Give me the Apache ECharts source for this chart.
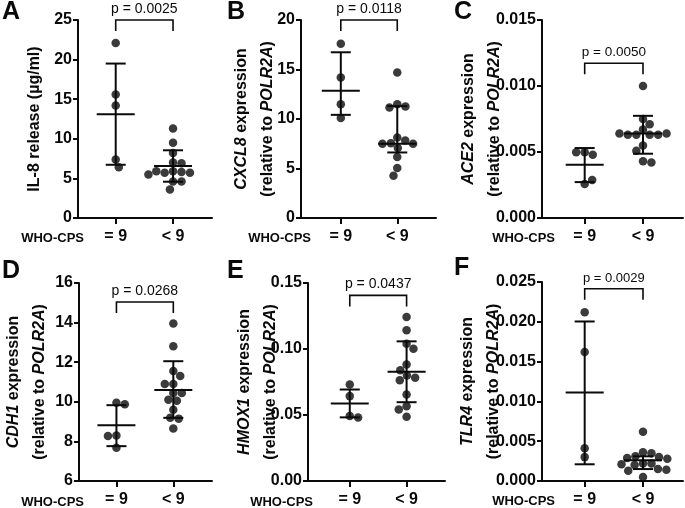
<!DOCTYPE html>
<html><head><meta charset="utf-8">
<script src="https://cdn.jsdelivr.net/npm/echarts@6/dist/echarts.min.js"></script>
<style>html,body{margin:0;padding:0;background:#fff}#c{width:685px;height:508px}</style>
</head><body><div id="c"></div>
<script>
// ---------- DATA ----------
const categories = ['= 9', '< 9'];
const groupLabel = 'WHO-CPS';
const panelLetters = ['A', 'B', 'C', 'D', 'E', 'F'];

// A: IL-8 release
const aEq9 = [22.1, 15.6, 14.2, 7.4, 6.4];
const aLt9 = [11.3, 9.5, 8.2, 7.0, 6.9, 5.9, 5.7, 5.8, 5.9, 5.7, 5.5, 4.6, 4.6, 3.6];
const aCenter = [13.1, 6.55];
const aLow = [6.72, 4.58];
const aHigh = [19.5, 8.55];
const aBracket = 25;
const aP = 'p = 0.0025';

// B: CXCL8
const bEq9 = [17.6, 14.2, 11.5, 10.1];
const bLt9 = [14.7, 11.5, 11.26, 11.16, 8.13, 7.83, 7.56, 7.5, 7.5, 7.06, 6.15, 5.04, 4.27];
const bCenter = [12.85, 7.5];
const bLow = [10.42, 6.62];
const bHigh = [16.74, 11.3];
const bBracket = 20;
const bP = 'p = 0.0118';

// C: ACE2
const cEq9 = [0.00499, 0.00479, 0.00499, 0.00257, 0.00287];
const cLt9 = [0.0100, 0.0075, 0.0071, 0.0067, 0.0063, 0.0063, 0.0063, 0.0063, 0.0064, 0.0064, 0.0055, 0.0051, 0.0043, 0.0042];
const cCenter = [0.00403, 0.0064];
const cLow = [0.00272, 0.00487];
const cHigh = [0.0053, 0.00774];
const cBracket = 0.01172;
const cP = 'p = 0.0050';

// D: CDH1
const dEq9 = [9.95, 9.88, 8.3, 8.27, 7.68];
const dLt9 = [13.95, 12.8, 11.55, 11.3, 10.9, 10.9, 10.45, 10.45, 10.1, 10.05, 9.6, 9.2, 9.15, 8.65];
const dCenter = [8.82, 10.59];
const dLow = [7.76, 9.19];
const dHigh = [9.83, 12.05];
const dBracket = 15.04;
const dP = 'p = 0.0268';

// E: HMOX1
const eEq9 = [0.0731, 0.0643, 0.0492, 0.0481];
const eLt9 = [0.1243, 0.1142, 0.1039, 0.1001, 0.0882, 0.0839, 0.0799, 0.0782, 0.0764, 0.0655, 0.0567, 0.0542, 0.0487];
const eCenter = [0.0587, 0.0827];
const eLow = [0.0482, 0.0597];
const eHigh = [0.0693, 0.1058];
const eBracket = 0.1406;
const eP = 'p = 0.0437';

// F: TLR4
const fEq9 = [0.0212, 0.0162, 0.0041, 0.0030];
const fLt9 = [0.0062, 0.0036, 0.0035, 0.0031, 0.0030, 0.0029, 0.0028, 0.0022, 0.0022, 0.0021, 0.0020, 0.0015, 0.0014, 0.0013, 0.0005];
const fCenter = [0.01113, 0.0026];
const fLow = [0.0021, 0.0015];
const fHigh = [0.02004, 0.0031];
const fBracket = 0.02416;
const fP = 'p = 0.0029';

// y axis ranges / tick intervals
const yMin = [0, 0, 0, 6, 0, 0];
const yMax = [25, 20, 0.015, 16, 0.15, 0.025];
const yInterval = [5, 5, 0.005, 2, 0.05, 0.005];
const yDecimals = [0, 0, 3, 0, 2, 3];

// axis titles ({i|...} = italic gene name)
const yTitles = [
  'IL-8 release (µg/ml)',
  '{i|CXCL8} expression\n(relative to {i|POLR2A})',
  '{i|ACE2} expression\n(relative to {i|POLR2A})',
  '{i|CDH1} expression\n(relative to {i|POLR2A})',
  '{i|HMOX1} expression\n(relative to {i|POLR2A})',
  '{i|TLR4} expression\n(relative to {i|POLR2A})'
];

// ---------- LAYOUT (pixels, style only) ----------
const layout = [
  {left:78,  top:20,  width:134, height:198, xmin:0.342, xmax:2.68,  gap:30, who:84,  lx:2,   ly:0,   pf:14},
  {left:301, top:20,  width:135, height:198, xmin:0.295, xmax:2.686, gap:20, who:311, lx:227, ly:0,   pf:14},
  {left:542, top:20,  width:141, height:198, xmin:0.268, xmax:2.686, gap:34, who:555, lx:454, ly:0,   pf:13.5},
  {left:78,  top:283, width:134, height:199, xmin:0.342, xmax:2.68,  gap:26, who:84,  lx:2,   ly:259, pf:14},
  {left:308, top:283, width:137, height:199, xmin:0.265, xmax:2.676, gap:24.5, who:313, lx:227, ly:259, pf:14},
  {left:542, top:282, width:141, height:199, xmin:0.268, xmax:2.686, gap:35, who:555, lx:454, ly:256, pf:13}
];
const FONT = "'Liberation Sans', Arial, Helvetica, sans-serif";
const INK = '#0a0a0a';

const panels = [
  {eq:aEq9, lt:aLt9, center:aCenter, low:aLow, high:aHigh, bracket:aBracket, p:aP},
  {eq:bEq9, lt:bLt9, center:bCenter, low:bLow, high:bHigh, bracket:bBracket, p:bP},
  {eq:cEq9, lt:cLt9, center:cCenter, low:cLow, high:cHigh, bracket:cBracket, p:cP},
  {eq:dEq9, lt:dLt9, center:dCenter, low:dLow, high:dHigh, bracket:dBracket, p:dP},
  {eq:eEq9, lt:eLt9, center:eCenter, low:eLow, high:eHigh, bracket:eBracket, p:eP},
  {eq:fEq9, lt:fLt9, center:fCenter, low:fLow, high:fHigh, bracket:fBracket, p:fP}
];

const chart = echarts.init(document.getElementById('c'), null, {renderer: 'canvas'});

function errRender(params, api) {
  const x = api.value(0);
  const c = api.coord([x, api.value(1)]);
  const lo = api.coord([x, api.value(2)]);
  const hi = api.coord([x, api.value(3)]);
  const st = {stroke: INK, lineWidth: 2};
  return {type: 'group', children: [
    {type: 'line', shape: {x1: c[0], y1: lo[1], x2: c[0], y2: hi[1]}, style: st},
    {type: 'line', shape: {x1: c[0] - 10, y1: lo[1], x2: c[0] + 10, y2: lo[1]}, style: st},
    {type: 'line', shape: {x1: c[0] - 10, y1: hi[1], x2: c[0] + 10, y2: hi[1]}, style: st},
    {type: 'line', shape: {x1: c[0] - 19, y1: c[1], x2: c[0] + 19, y2: c[1]}, style: st}
  ]};
}
function makeBracketRender(fontSize) {
  return function (params, api) {
    const p1 = api.coord([api.value(0), api.value(2)]);
    const p2 = api.coord([api.value(1), api.value(2)]);
    const txt = api.value(3);
    return {type: 'group', children: [
      {type: 'polyline', shape: {points: [[p1[0], p1[1] + 11], [p1[0], p1[1]], [p2[0], p2[1]], [p2[0], p2[1] + 11]]},
       style: {stroke: INK, lineWidth: 1.6, fill: null}},
      {type: 'text', x: (p1[0] + p2[0]) / 2, y: p1[1] - 4,
       style: {text: String(txt), fill: INK, font: fontSize + 'px ' + FONT, align: 'center', verticalAlign: 'bottom'}}
    ]};
  };
}

function buildOption(offsets) {
  const grid = [], xAxis = [], yAxis = [], series = [], graphic = [];
  panels.forEach((pn, i) => {
    const L = layout[i];
    grid.push({left: L.left, top: L.top, width: L.width, height: L.height, containLabel: false});
    xAxis.push({
      type: 'value', gridIndex: i, min: L.xmin, max: L.xmax,
      axisLine: {show: true, lineStyle: {color: INK, width: 2}},
      axisTick: {show: true, customValues: [1, 2], length: 6, lineStyle: {color: INK, width: 2}},
      axisLabel: {show: true, customValues: [1, 2], margin: 11, color: INK, fontWeight: 'bold', fontSize: 16, fontFamily: FONT,
        formatter: v => categories[Math.round(v) - 1] || ''},
      splitLine: {show: false}
    });
    yAxis.push({
      type: 'value', gridIndex: i, min: yMin[i], max: yMax[i], interval: yInterval[i],
      axisLine: {show: true, lineStyle: {color: INK, width: 2}},
      axisTick: {show: true, length: 5, lineStyle: {color: INK, width: 2}},
      axisLabel: {margin: 6, color: INK, fontWeight: 'bold', fontSize: 16, fontFamily: FONT,
        formatter: v => Number(v).toFixed(yDecimals[i])},
      splitLine: {show: false},
      name: yTitles[i], nameLocation: 'middle', nameGap: L.gap, nameRotate: 90, nameMoveOverlap: false,
      nameTextStyle: {color: INK, fontWeight: 'bold', fontSize: 16, fontFamily: FONT, lineHeight: 26,
        rich: {i: {fontStyle: 'italic', fontWeight: 'bold', fontSize: 16, fontFamily: FONT, color: INK, lineHeight: 26}}}
    });
    const off = offsets ? offsets[i] : null;
    [pn.eq, pn.lt].forEach((vals, g) => {
      series.push({
        type: 'scatter', xAxisIndex: i, yAxisIndex: i, symbol: 'circle', symbolSize: 8.5,
        itemStyle: {color: INK}, z: 2, silent: true,
        data: vals.map((v, k) => [g + 1 + (off ? off[g][k] : 0), v])
      });
    });
    series.push({
      type: 'custom', xAxisIndex: i, yAxisIndex: i, z: 3, silent: true,
      renderItem: errRender, encode: {x: 0, y: [1, 2, 3]},
      data: [[1, pn.center[0], pn.low[0], pn.high[0]], [2, pn.center[1], pn.low[1], pn.high[1]]]
    });
    series.push({
      type: 'custom', xAxisIndex: i, yAxisIndex: i, z: 3, silent: true, clip: false,
      renderItem: makeBracketRender(L.pf), encode: {x: [0, 1], y: 2},
      data: [[1, 2, pn.bracket, pn.p]]
    });
    graphic.push({type: 'text', x: L.lx, y: L.ly, silent: true,
      style: {text: panelLetters[i], font: 'bold 25px ' + FONT, fill: INK, align: 'left', verticalAlign: 'top'}});
    graphic.push({type: 'text', x: L.who, y: L.top + L.height + 20, silent: true,
      style: {text: groupLabel, font: 'bold 13px ' + FONT, fill: INK, align: 'right', verticalAlign: 'middle'}});
  });
  return {animation: false, backgroundColor: '#fff', grid, xAxis, yAxis, series, graphic};
}

// deterministic beeswarm: place each dot at the horizontal offset nearest the column centre without overlap
function swarm(pys, d) {
  const placed = [], out = [];
  let side = 1;
  pys.forEach(y => {
    const iv = [];
    placed.forEach(p => {
      const dy = Math.abs(p.y - y);
      if (dy < d) { const w = Math.sqrt(d * d - dy * dy); iv.push([p.x - w, p.x + w]); }
    });
    const cands = [0];
    iv.forEach(a => cands.push(a[0], a[1]));
    const ok = c => iv.every(a => c <= a[0] + 1e-6 || c >= a[1] - 1e-6);
    let best = null;
    cands.filter(ok).forEach(c => {
      if (best === null) { best = c; return; }
      const da = Math.abs(c), db = Math.abs(best);
      if (da < db - 1e-6 || (Math.abs(da - db) < 1e-6 && c * side > 0)) best = c;
    });
    if (Math.abs(best) > 1e-6) side = -side;
    placed.push({x: best, y});
    out.push(best);
  });
  return out;
}

chart.setOption(buildOption(null));
const offsets = panels.map((pn, i) => {
  const p1 = chart.convertToPixel({gridIndex: i}, [1, yMin[i]]);
  const p2 = chart.convertToPixel({gridIndex: i}, [2, yMin[i]]);
  const pxPerX = p2[0] - p1[0];
  return [pn.eq, pn.lt].map(vals => {
    const pys = vals.map(v => chart.convertToPixel({gridIndex: i}, [1, v])[1]);
    return swarm(pys, 8.5).map(o => o / pxPerX);
  });
});
chart.setOption(buildOption(offsets), true);
</script>
</body></html>
